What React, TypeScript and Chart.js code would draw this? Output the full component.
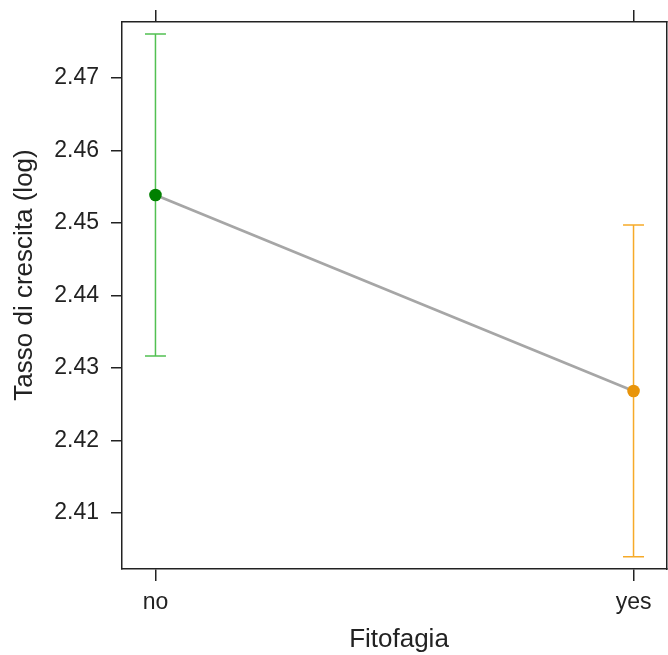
import React, { useEffect, useRef } from "react";
import { Chart, registerables } from "chart.js";

Chart.register(...registerables);

const categories = ["no", "yes"];
const means = [2.45386, 2.42683];
const lower = [2.43166, 2.40397];
const upper = [2.47607, 2.44972];
const yTicks = [2.41, 2.42, 2.43, 2.44, 2.45, 2.46, 2.47];
const xTitle = "Fitofagia";
const yTitle = "Tasso di crescita (log)";

const pointColors = ["#008000", "#e8940a"];
const barColors = ["#52c052", "#f6aa28"];
const FONT = "'Liberation Sans', Arial, sans-serif";
const INK = "#222222";

const noPad = (s: any) => {
  s.paddingTop = 0;
  s.paddingBottom = 0;
  s.paddingLeft = 0;
  s.paddingRight = 0;
};

export default function App() {
  const ref = useRef<HTMLCanvasElement>(null);
  useEffect(() => {
    if (!ref.current) return;
    const errorBars = {
      id: "errorBars",
      beforeDatasetsDraw(chart: any) {
        const { ctx, scales } = chart;
        const xs = scales.x;
        const ys = scales.y;
        ctx.save();
        categories.forEach((_, i) => {
          const px = xs.getPixelForValue(i);
          const pl = ys.getPixelForValue(lower[i]);
          const pu = ys.getPixelForValue(upper[i]);
          ctx.strokeStyle = barColors[i];
          ctx.lineWidth = 1.5;
          ctx.beginPath();
          ctx.moveTo(px, pl);
          ctx.lineTo(px, pu);
          ctx.moveTo(px - 10.5, pl);
          ctx.lineTo(px + 10.5, pl);
          ctx.moveTo(px - 10.5, pu);
          ctx.lineTo(px + 10.5, pu);
          ctx.stroke();
        });
        ctx.restore();
      },
      afterDraw(chart: any) {
        const { ctx } = chart;
        ctx.save();
        ctx.fillStyle = INK;
        ctx.font = `26px ${FONT}`;
        ctx.textAlign = "center";
        ctx.textBaseline = "alphabetic";
        ctx.fillText(xTitle, 399, 647);
        ctx.translate(32, 275);
        ctx.rotate(-Math.PI / 2);
        ctx.fillText(yTitle, 0, 0);
        ctx.restore();
      },
    };
    const tickOpts = {
      color: INK,
      font: { size: 23, family: FONT },
    };
    const chart = new Chart(ref.current, {
      type: "line",
      data: {
        datasets: [
          {
            data: categories.map((_, i) => ({ x: i, y: means[i] })),
            borderColor: "#a6a6a6",
            borderWidth: 2.8,
            pointRadius: 6.3,
            pointBorderWidth: 0,
            pointBackgroundColor: pointColors,
            pointBorderColor: pointColors,
            tension: 0,
          },
        ],
      },
      options: {
        responsive: false,
        animation: false,
        layout: { padding: 0, autoPadding: false },
        plugins: { legend: { display: false }, tooltip: { enabled: false } },
        scales: {
          x: {
            type: "linear",
            position: "bottom",
            min: -0.07,
            max: 1.07,
            afterBuildTicks: (s: any) => {
              s.ticks = categories.map((_, i) => ({ value: i }));
            },
            afterFit: (s: any) => {
              s.height = 86;
              noPad(s);
            },
            ticks: {
              ...tickOpts,
              padding: 8,
              maxRotation: 0,
              autoSkip: false,
              callback: (v: any) => categories[v as number] ?? "",
            },
            grid: { drawOnChartArea: false, drawTicks: true, tickLength: 12, color: INK, lineWidth: 1.5 },
            border: { color: INK, width: 1.5 },
          },
          x2: {
            type: "linear",
            axis: "x",
            position: "top",
            min: -0.07,
            max: 1.07,
            afterBuildTicks: (s: any) => {
              s.ticks = categories.map((_, i) => ({ value: i }));
            },
            afterFit: (s: any) => {
              s.height = 22;
              noPad(s);
            },
            ticks: { display: false },
            grid: { drawOnChartArea: false, drawTicks: true, tickLength: 12, color: INK, lineWidth: 1.5 },
            border: { color: INK, width: 1.5 },
          },
          y: {
            type: "linear",
            position: "left",
            min: 2.40228,
            max: 2.47772,
            afterBuildTicks: (s: any) => {
              s.ticks = yTicks.map((v) => ({ value: v }));
            },
            afterFit: (s: any) => {
              s.width = 122;
              noPad(s);
            },
            ticks: {
              ...tickOpts,
              padding: 12,
              callback: (v: any) => Number(v).toFixed(2),
            },
            grid: { drawOnChartArea: false, drawTicks: true, tickLength: 11, color: INK, lineWidth: 1.5 },
            border: { color: INK, width: 1.5 },
          },
          y2: {
            type: "linear",
            axis: "y",
            position: "right",
            min: 2.40228,
            max: 2.47772,
            afterFit: (s: any) => {
              s.width = 1;
              noPad(s);
            },
            ticks: { display: false },
            grid: { display: false, drawTicks: false },
            border: { color: INK, width: 1.5 },
          },
        },
      },
      plugins: [errorBars],
    } as any);
    return () => chart.destroy();
  }, []);
  return (
    <div style={{ position: "absolute", left: 0, top: 0, width: 668, height: 655, background: "#fff" }}>
      <canvas ref={ref} width={668} height={655} style={{ width: 668, height: 655 }} />
    </div>
  );
}
